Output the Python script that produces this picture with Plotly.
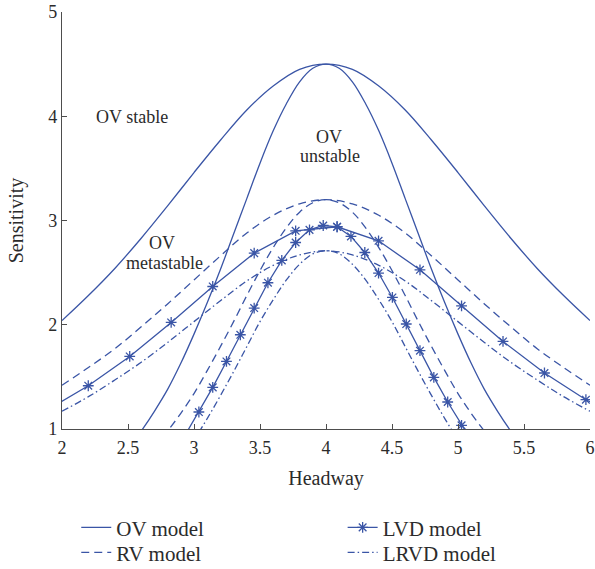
import plotly.graph_objects as go

# ---------------- data ----------------
x_broad = [2.0, 2.2, 2.4, 2.6, 2.8, 3.0, 3.2, 3.4, 3.6, 3.8, 4.0,
           4.2, 4.4, 4.6, 4.8, 5.0, 5.2, 5.4, 5.6, 5.8, 6.0]
ov_broad = [2.04, 2.28, 2.54, 2.83, 3.14, 3.46, 3.77, 4.06, 4.29, 4.45, 4.50,
            4.45, 4.29, 4.06, 3.77, 3.46, 3.14, 2.83, 2.54, 2.28, 2.04]
rv_broad = [1.42, 1.59, 1.77, 1.98, 2.20, 2.43, 2.66, 2.88, 3.05, 3.16, 3.20,
            3.16, 3.05, 2.88, 2.66, 2.43, 2.20, 1.98, 1.77, 1.59, 1.42]
lrvd_broad = [1.17, 1.31, 1.47, 1.64, 1.83, 2.03, 2.23, 2.42, 2.57, 2.67, 2.71,
              2.67, 2.57, 2.42, 2.23, 2.03, 1.83, 1.64, 1.47, 1.31, 1.17]

x_ov_narrow = [2.5, 2.6, 2.7, 2.8, 2.9, 3.0, 3.1, 3.2, 3.3, 3.4, 3.5, 3.6, 3.7, 3.8, 3.9, 4.0,
               4.1, 4.2, 4.3, 4.4, 4.5, 4.6, 4.7, 4.8, 4.9, 5.0, 5.1, 5.2, 5.3, 5.4, 5.5]
ov_narrow = [0.81, 0.98, 1.17, 1.38, 1.63, 1.91, 2.21, 2.53, 2.87, 3.21, 3.55, 3.86, 4.12, 4.33, 4.46, 4.50,
             4.46, 4.33, 4.12, 3.86, 3.55, 3.21, 2.87, 2.53, 2.21, 1.91, 1.63, 1.38, 1.17, 0.98, 0.81]

x_rv_narrow = [2.7, 2.8, 2.9, 3.0, 3.1, 3.2, 3.3, 3.4, 3.5, 3.6, 3.7, 3.8, 3.9, 4.0,
               4.1, 4.2, 4.3, 4.4, 4.5, 4.6, 4.7, 4.8, 4.9, 5.0, 5.1, 5.2, 5.3]
rv_narrow = [0.82, 0.98, 1.15, 1.34, 1.56, 1.79, 2.03, 2.28, 2.52, 2.74, 2.93, 3.08, 3.17, 3.20,
             3.17, 3.08, 2.93, 2.74, 2.52, 2.28, 2.03, 1.79, 1.56, 1.34, 1.15, 0.98, 0.82]

x_lrvd_narrow = [2.9, 3.0, 3.1, 3.2, 3.3, 3.4, 3.5, 3.6, 3.7, 3.8, 3.9, 4.0,
                 4.1, 4.2, 4.3, 4.4, 4.5, 4.6, 4.7, 4.8, 4.9, 5.0, 5.1]
lrvd_narrow = [0.75, 0.90, 1.10, 1.32, 1.55, 1.79, 2.03, 2.24, 2.43, 2.58, 2.68, 2.71,
               2.68, 2.58, 2.43, 2.24, 2.03, 1.79, 1.55, 1.32, 1.10, 0.90, 0.75]

x_lvd_broad = [1.885, 2.199, 2.513, 2.827, 3.142, 3.456, 3.770, 4.084, 4.398,
               4.712, 5.027, 5.341, 5.655, 5.969, 6.283]
lvd_broad = [1.18, 1.415, 1.696, 2.022, 2.367, 2.687, 2.901, 2.94, 2.805,
             2.527, 2.182, 1.84, 1.537, 1.281, 1.08]

x_lvd_narrow = [2.932, 3.037, 3.142, 3.246, 3.351, 3.456, 3.560, 3.665, 3.770, 3.875, 3.979,
                4.084, 4.189, 4.294, 4.398, 4.503, 4.608, 4.712, 4.817, 4.922, 5.027, 5.131]
lvd_narrow = [0.94, 1.163, 1.399, 1.648, 1.904, 2.160, 2.403, 2.617, 2.789, 2.91, 2.952,
              2.94, 2.847, 2.693, 2.496, 2.262, 2.007, 1.751, 1.495, 1.259, 1.035, 0.83]

x_ticks = [2, 2.5, 3, 3.5, 4, 4.5, 5, 5.5, 6]
x_tick_labels = ["2", "2.5", "3", "3.5", "4", "4.5", "5", "5.5", "6"]
y_ticks = [1, 2, 3, 4, 5]
y_tick_labels = ["1", "2", "3", "4", "5"]

# ---------------- style ----------------
C = "#3a55a6"
TXT = "#2b2b2b"
FONT = "Liberation Serif"
LW = 1.3
DASH = "8px,5px"
DASHDOT = "7px,3px,1.5px,3px"

fig = go.Figure()

def add(x, y, name, dash, legend, show, spline=True, markers=False):
    fig.add_trace(go.Scatter(
        x=x, y=y, name=name,
        mode="lines+markers" if markers else "lines",
        line=dict(color=C, width=LW, dash=dash,
                  shape="spline" if spline else "linear"),
        marker=dict(symbol="asterisk-open", size=9, color=C,
                    line=dict(color=C, width=1.3)) if markers else None,
        legend=legend, showlegend=show, legendgroup=name,
    ))

add(x_broad, ov_broad, "OV model", "solid", "legend", True)
add(x_ov_narrow, ov_narrow, "OV model", "solid", "legend", False)
add(x_broad, rv_broad, "RV model", DASH, "legend2", True)
add(x_rv_narrow, rv_narrow, "RV model", DASH, "legend2", False)
add(x_lvd_broad, lvd_broad, "LVD model", "solid", "legend3", True, spline=False, markers=True)
add(x_lvd_narrow, lvd_narrow, "LVD model", "solid", "legend3", False, spline=False, markers=True)
add(x_broad, lrvd_broad, "LRVD model", DASHDOT, "legend4", True)
add(x_lrvd_narrow, lrvd_narrow, "LRVD model", DASHDOT, "legend4", False)

axis_common = dict(
    showgrid=False, zeroline=False, showline=True, linecolor="#4d4d4d",
    linewidth=1.3, ticks="inside", ticklen=5, tickwidth=1.1, tickcolor="#4d4d4d",
    tickfont=dict(family=FONT, size=18, color=TXT), mirror=False, automargin=False,
    ticklabeloverflow="allow",
)

legend_font = dict(family=FONT, size=21, color=TXT)
row1, row2 = -0.2367, -0.2966
col1, col2 = 0.027, 0.5315


def leg(xp, yp):
    return dict(x=xp, y=yp, xanchor="left", yanchor="middle", font=legend_font,
                bgcolor="rgba(0,0,0,0)", borderwidth=0)


fig.update_layout(
    width=595, height=569,
    margin=dict(l=62, r=5, t=12, b=140, autoexpand=False),
    paper_bgcolor="white", plot_bgcolor="white",
    xaxis=dict(range=[2, 6], tickvals=x_ticks, ticktext=x_tick_labels,
               ticklabelstandoff=2,
               title=dict(text="Headway", font=dict(family=FONT, size=20, color=TXT), standoff=14),
               **axis_common),
    yaxis=dict(range=[1, 5], tickvals=y_ticks, ticktext=y_tick_labels,
               title=dict(text="Sensitivity", font=dict(family=FONT, size=20, color=TXT), standoff=19),
               **axis_common),
    legend=leg(col1, row1),
    legend2=leg(col1, row2),
    legend3=leg(col2, row1),
    legend4=leg(col2, row2),
    showlegend=True,
)

labels = [
    ("OV stable", 2.534, 3.997),
    ("OV", 4.021, 3.805),
    ("unstable", 4.029, 3.614),
    ("OV", 2.759, 2.789),
    ("metastable", 2.779, 2.592),
]
for text, lx, ly in labels:
    fig.add_annotation(x=lx, y=ly, text=text, showarrow=False,
                       font=dict(family=FONT, size=18, color=TXT),
                       xanchor="center", yanchor="middle")

# remove the browser's default 8px page margin so the figure fills the window
fig.write_html("out.html", config={"displayModeBar": False},
               post_script="document.body.style.margin='0px';")
